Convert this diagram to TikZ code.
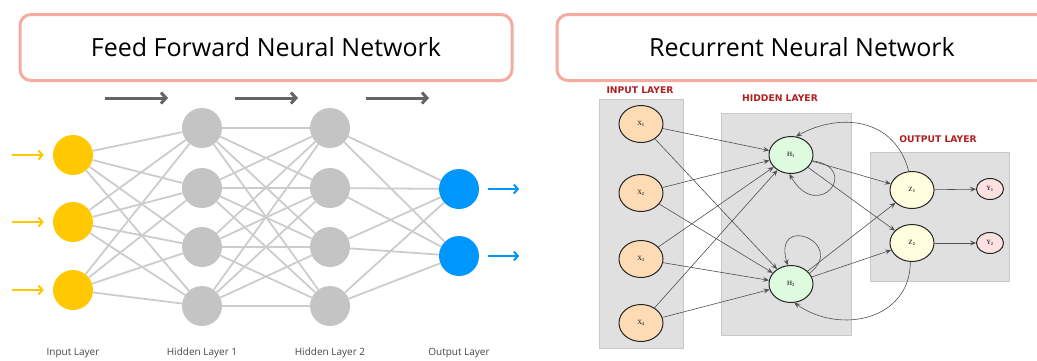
\documentclass[tikz,border=0pt]{standalone}
\usepackage{fontspec}
\setmainfont{Open Sans}
\newfontfamily\lblfont{DejaVu Sans}
\newfontfamily\nodefont{Liberation Serif}
\usetikzlibrary{arrows.meta,shapes.geometric}
\definecolor{pinkb}{RGB}{245,172,158}
\definecolor{ffyellow}{RGB}{255,200,0}
\definecolor{ffgray}{RGB}{196,196,196}
\definecolor{ffedgec}{RGB}{204,204,204}
\definecolor{ffblue}{RGB}{0,150,255}
\definecolor{arrgray}{RGB}{100,100,100}
\definecolor{lblgray}{RGB}{70,70,70}
\definecolor{boxfill}{RGB}{224,224,224}
\definecolor{boxline}{RGB}{200,200,200}
\definecolor{redlbl}{RGB}{176,32,32}
\definecolor{xfill}{RGB}{253,220,181}
\definecolor{hfill}{RGB}{222,251,224}
\definecolor{zfill}{RGB}{255,255,224}
\definecolor{yfill}{RGB}{252,224,226}
\definecolor{rnnline}{RGB}{80,80,80}
\begin{document}
\begin{tikzpicture}[x=1pt,y=-1pt,
  titlebox/.style={draw=pinkb, line width=3pt, rounded corners=11pt, fill=white, minimum height=66pt, font=\fontsize{25}{29}\selectfont, text=black},
  ffnode/.style={circle, minimum size=40pt, inner sep=0pt},
  ffedge/.style={draw=ffedgec, line width=1.8pt},
  flowarrow/.style={-{Straight Barb[length=5pt,width=11pt]}, line width=3pt, draw=arrgray},
  inarrow/.style={-{Straight Barb[length=4pt,width=9pt]}, line width=2pt, draw=ffyellow},
  outarrow/.style={-{Straight Barb[length=4pt,width=9pt]}, line width=2pt, draw=ffblue},
  fflabel/.style={font=\fontsize{10}{11}\selectfont, text=lblgray},
  rnnbox/.style={draw=boxline, fill=boxfill, line width=1pt, inner sep=0pt},
  layerlbl/.style={font=\lblfont\fontsize{9.2}{10}\selectfont\bfseries, text=redlbl},
  rnode/.style={ellipse, draw=black!85, line width=1pt, minimum width=44pt, minimum height=37pt, inner sep=0pt, font=\nodefont\fontsize{6.5}{7}\selectfont\bfseries, text=black!75},
  ynode/.style={ellipse, draw=black!85, line width=1pt, fill=yfill, minimum width=27pt, minimum height=21pt, inner sep=0pt, font=\nodefont\fontsize{6.5}{7}\selectfont\bfseries, text=black!75},
  rarrow/.style={-{Stealth[length=6pt,width=5pt,inset=2.5pt]}, draw=rnnline, line width=0.6pt}
]
\useasboundingbox (0,0) rectangle (1037,360);

% ---------------- Feed forward ----------------
\node[titlebox, minimum width=492pt] (t1) at (266,47.5) {Feed Forward Neural Network};

\coordinate (f1s) at (105,98); \coordinate (f1e) at (168,98);
\coordinate (f2s) at (235,98); \coordinate (f2e) at (298,98);
\coordinate (f3s) at (366,98); \coordinate (f3e) at (429,98);
\draw[flowarrow] (f1s) -- (f1e);
\draw[flowarrow] (f2s) -- (f2e);
\draw[flowarrow] (f3s) -- (f3e);

\foreach \i/\y in {1/155,2/222,3/290} \node[ffnode, fill=ffyellow] (i\i) at (73,\y) {};
\foreach \i/\y in {1/128,2/188,3/247,4/306} \node[ffnode, fill=ffgray] (a\i) at (202,\y) {};
\foreach \i/\y in {1/128,2/188,3/247,4/306} \node[ffnode, fill=ffgray] (b\i) at (330,\y) {};
\foreach \i/\y in {1/189,2/256} \node[ffnode, fill=ffblue] (o\i) at (459,\y) {};

\foreach \i in {1,2,3} \foreach \j in {1,2,3,4} \draw[ffedge] (i\i) -- (a\j);
\foreach \i in {1,2,3,4} \foreach \j in {1,2,3,4} \draw[ffedge] (a\i) -- (b\j);
\foreach \i in {1,2,3,4} \foreach \j in {1,2} \draw[ffedge] (b\i) -- (o\j);

\foreach \i in {1,2,3} {
  \coordinate (is\i) at ([xshift=-41pt]i\i.west);
  \coordinate (ie\i) at ([xshift=-9pt]i\i.west);
  \draw[inarrow] (is\i) -- (ie\i);
}
\foreach \i in {1,2} {
  \coordinate (os\i) at ([xshift=9pt]o\i.east);
  \coordinate (oe\i) at ([xshift=40pt]o\i.east);
  \draw[outarrow] (os\i) -- (oe\i);
}

\node[fflabel] (l1) at (73,353) {Input Layer};
\node[fflabel] (l2) at (202,353) {Hidden Layer 1};
\node[fflabel] (l3) at (330,353) {Hidden Layer 2};
\node[fflabel] (l4) at (459,353) {Output Layer};

% ---------------- Recurrent ----------------
\node[titlebox, minimum width=490pt] (t2) at (802,47.5) {Recurrent Neural Network};

\node[rnnbox, minimum width=84pt, minimum height=249pt] (inbox) at (641,223.5) {};
\node[rnnbox, minimum width=130pt, minimum height=222pt] (hidbox) at (786,224) {};
\node[rnnbox, minimum width=139pt, minimum height=129pt] (outbox) at (939.5,216.5) {};

\node[layerlbl] (L1) at (640,90) {INPUT LAYER};
\node[layerlbl] (L2) at (780,98) {HIDDEN LAYER};
\node[layerlbl] (L3) at (938,139) {OUTPUT LAYER};

\node[rnode, fill=xfill] (x1) at (641,124) {X\textsubscript{1}};
\node[rnode, fill=xfill] (x2) at (641,193) {X\textsubscript{2}};
\node[rnode, fill=xfill] (x3) at (641,259) {X\textsubscript{3}};
\node[rnode, fill=xfill] (x4) at (641,323) {X\textsubscript{4}};
\node[rnode, fill=hfill] (h1) at (791,155) {H\textsubscript{1}};
\node[rnode, fill=hfill] (h2) at (791,284) {H\textsubscript{2}};
\node[rnode, fill=zfill] (z1) at (912,190) {Z\textsubscript{1}};
\node[rnode, fill=zfill] (z2) at (912,243) {Z\textsubscript{2}};
\node[ynode] (y1) at (990,189) {Y\textsubscript{1}};
\node[ynode] (y2) at (990,243) {Y\textsubscript{2}};

\foreach \i in {1,2,3,4} {
  \draw[rarrow] (x\i) -- (h1);
  \draw[rarrow] (x\i) -- (h2);
}
\draw[rarrow] (h1) -- (z1);
\draw[rarrow] (h1) -- (z2);
\draw[rarrow] (h2) -- (z1);
\draw[rarrow] (h2) -- (z2);
\draw[rarrow] (z1) -- (y1);
\draw[rarrow] (z2) -- (y2);

\draw[rarrow] (h1.-15) .. controls (862,168) and (818,224) .. (h1.-95);
\draw[rarrow] (h2.30) .. controls (848,243) and (772,212) .. (h2.100);
\draw[rarrow] (z1.100) .. controls (895,118) and (840,112) .. (h1.75);
\draw[rarrow] (z2.-95) .. controls (910,320) and (840,335) .. (h2.-80);
\end{tikzpicture}
\end{document}
